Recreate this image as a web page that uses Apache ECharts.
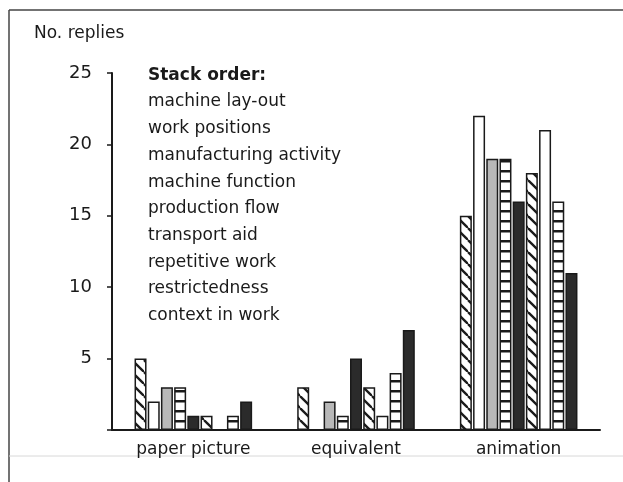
<!DOCTYPE html>
<html>
<head>
<meta charset="utf-8">
<script src="https://cdn.jsdelivr.net/npm/echarts@6/dist/echarts.min.js"></script>
<style>
html,body{margin:0;padding:0;background:#fff;}
#main{width:623px;height:482px;}
</style>
</head>
<body>
<div id="main"></div>
<script>
var categories = ['paper picture', 'equivalent', 'animation'];
var seriesNames = ['machine lay-out', 'work positions', 'manufacturing activity', 'machine function',
	'production flow', 'transport aid', 'repetitive work', 'restrictedness', 'context in work'];
// one array per series, values for paper picture / equivalent / animation
var layoutVals = [5, 3, 15];
var positionsVals = [2, 0, 22];
var activityVals = [3, 2, 19];
var functionVals = [3, 1, 19];
var flowVals = [1, 5, 16];
var transportVals = [1, 3, 18];
var repetitiveVals = [0, 1, 21];
var restrictVals = [1, 4, 16];
var contextVals = [2, 7, 11];
var yTicks = [0, 5, 10, 15, 20, 25];

var allVals = [layoutVals, positionsVals, activityVals, functionVals, flowVals,
	transportVals, repetitiveVals, restrictVals, contextVals];
var fills = ['hatch', 'white', 'grey', 'stripe', 'black', 'hatch', 'white', 'stripe', 'black'];

var FONT = '"DejaVu Sans", sans-serif';

function hatchPattern(){
	var n = 12;
	var c = document.createElement('canvas');
	c.width = n; c.height = n;
	var g = c.getContext('2d');
	g.fillStyle = '#fff';
	g.fillRect(0, 0, n, n);
	g.strokeStyle = '#1a1a1a';
	g.lineWidth = 2.3;
	// lines running from top-left down to bottom-right
	for (var k = -1; k <= 1; k++) {
		g.beginPath();
		g.moveTo(k * n, 0);
		g.lineTo(k * n + n, n);
		g.stroke();
	}
	return c;
}
function stripePattern(){
	var c = document.createElement('canvas');
	c.width = 10; c.height = 10;
	var g = c.getContext('2d');
	g.fillStyle = '#fff';
	g.fillRect(0, 0, 10, 10);
	g.fillStyle = '#1a1a1a';
	g.fillRect(0, 0, 10, 2.5);
	return c;
}
var hatch = hatchPattern();
var stripe = stripePattern();
function fillFor(kind){
	if (kind == 'hatch') return {image: hatch, repeat: 'repeat'};
	if (kind == 'stripe') return {image: stripe, repeat: 'repeat'};
	if (kind == 'grey') return '#b8b8b8';
	if (kind == 'black') return '#2b2b2b';
	return '#ffffff';
}

var series = [];
for (var i = 0; i < seriesNames.length; i++) {
	series.push({
		name: seriesNames[i],
		type: 'bar',
		barWidth: 12,
		barGap: '10%',
		data: allVals[i],
		itemStyle: {color: fillFor(fills[i]), borderColor: '#1a1a1a', borderWidth: 1.5},
		emphasis: {disabled: true}
	});
}

var legendText = '{b|Stack order:}\n' + seriesNames.join('\n');

var chart = echarts.init(document.getElementById('main'));
chart.setOption({
	animation: false,
	backgroundColor: '#fff',
	grid: {left: 112, right: 23, top: 73, bottom: 52},
	xAxis: {
		type: 'category',
		data: categories,
		axisLine: {lineStyle: {color: '#1a1a1a', width: 2}},
		axisTick: {show: false},
		axisLabel: {color: '#1a1a1a', fontFamily: FONT, fontSize: 17, margin: 11}
	},
	yAxis: {
		type: 'value',
		min: yTicks[0],
		max: yTicks[yTicks.length - 1],
		interval: 5,
		splitLine: {show: false},
		axisLine: {show: true, lineStyle: {color: '#1a1a1a', width: 2}},
		axisTick: {show: true, length: 5, lineStyle: {color: '#1a1a1a', width: 1.5}},
		axisLabel: {
			color: '#1a1a1a', fontFamily: FONT, fontSize: 18, margin: 20,
			formatter: function(v){ return v == 0 ? '' : String(v); }
		}
	},
	graphic: [
		{type: 'line', shape: {x1: 9, y1: 10, x2: 623, y2: 10}, style: {stroke: '#444', lineWidth: 1.5}},
		{type: 'line', shape: {x1: 9, y1: 10, x2: 9, y2: 482}, style: {stroke: '#444', lineWidth: 1.5}},
		{type: 'line', shape: {x1: 9, y1: 456, x2: 623, y2: 456}, style: {stroke: '#d8d8d8', lineWidth: 1}},
		{type: 'text', left: 34, top: 25, style: {text: 'No. replies', fill: '#1a1a1a', font: '17px ' + FONT}},
		{
			type: 'text', left: 148, top: 62,
			style: {
				text: legendText, fill: '#1a1a1a', font: '17px ' + FONT, lineHeight: 26.7,
				rich: {b: {fontWeight: 'bold', fontSize: 17, fontFamily: FONT, lineHeight: 26.7}}
			}
		}
	],
	series: series
});
</script>
</body>
</html>
